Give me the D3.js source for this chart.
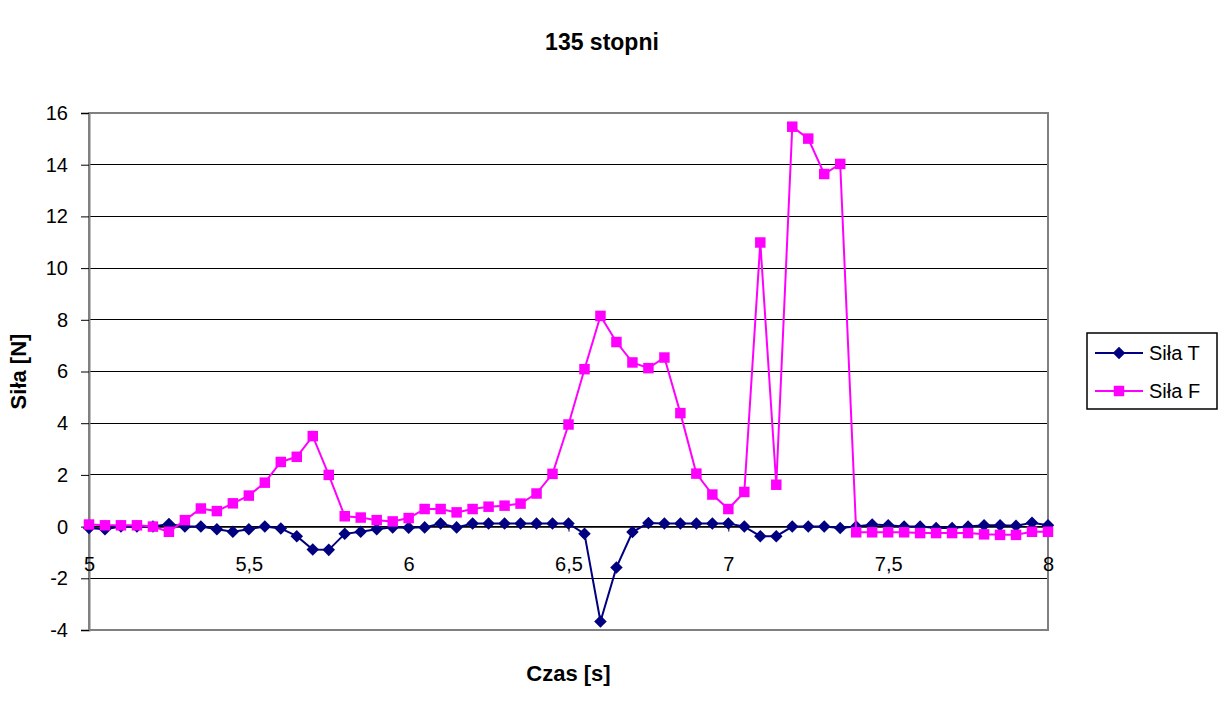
<!DOCTYPE html>
<html>
<head>
<meta charset="utf-8">
<script src="https://cdn.jsdelivr.net/npm/d3@7"></script>
<style>
  body { margin: 0; background: #fff; }
  svg { font-family: Arial, "Liberation Sans", sans-serif; }
</style>
</head>
<body>
<div id="chart"></div>
<script>
// chart data
const czas = [
  5.00, 5.05, 5.10, 5.15, 5.20, 5.25, 5.30, 5.35, 5.40, 5.45,
  5.50, 5.55, 5.60, 5.65, 5.70, 5.75, 5.80, 5.85, 5.90, 5.95,
  6.00, 6.05, 6.10, 6.15, 6.20, 6.25, 6.30, 6.35, 6.40, 6.45,
  6.50, 6.55, 6.60, 6.65, 6.70, 6.75, 6.80, 6.85, 6.90, 6.95,
  7.00, 7.05, 7.10, 7.15, 7.20, 7.25, 7.30, 7.35, 7.40, 7.45,
  7.50, 7.55, 7.60, 7.65, 7.70, 7.75, 7.80, 7.85, 7.90, 7.95,
  8.00
];
const silaT = [
  -0.05, -0.1, 0.0, 0.0, 0.0, 0.1, 0.0, 0.0, -0.1, -0.2,
  -0.1, 0.0, -0.07, -0.37, -0.89, -0.9, -0.28, -0.2, -0.1, -0.03,
  -0.04, -0.03, 0.12, -0.03, 0.12, 0.12, 0.12, 0.12, 0.12, 0.12,
  0.12, -0.28, -3.67, -1.58, -0.21, 0.14, 0.12, 0.12, 0.12, 0.12,
  0.12, 0.0, -0.37, -0.37, 0.0, 0.0, 0.0, -0.05, 0.0, 0.08,
  0.05, 0.0, 0.0, -0.05, -0.05, 0.0, 0.05, 0.05, 0.03, 0.15,
  0.05
];
const silaF = [
  0.08, 0.05, 0.05, 0.05, 0.0, -0.2, 0.25, 0.7, 0.6, 0.9,
  1.2, 1.7, 2.5, 2.7, 3.5, 2.0, 0.4, 0.35, 0.25, 0.2,
  0.33, 0.68, 0.68, 0.55, 0.68, 0.77, 0.81, 0.89, 1.28, 2.04,
  3.95, 6.09, 8.15, 7.14, 6.35, 6.13, 6.54, 4.39, 2.05, 1.24,
  0.68, 1.34, 10.99, 1.62, 15.47, 15.01, 13.64, 14.03, -0.22, -0.22,
  -0.22, -0.22, -0.25, -0.25, -0.25, -0.25, -0.3, -0.32, -0.32, -0.2,
  -0.2
];
const xTicks = [5, 5.5, 6, 6.5, 7, 7.5, 8];
const yTicks = [-4, -2, 0, 2, 4, 6, 8, 10, 12, 14, 16];

const series = [
  { name: "Siła T", values: silaT, color: "#000080", marker: "diamond" },
  { name: "Siła F", values: silaF, color: "#FF00FF", marker: "square" }
];

const W = 1229, H = 715;
const margin = { top: 113, right: 181, bottom: 85, left: 89 };
const width = W - margin.left - margin.right;
const height = H - margin.top - margin.bottom;

const svg = d3.select("#chart").append("svg")
  .attr("width", W)
  .attr("height", H);

const g = svg.append("g")
  .attr("transform", `translate(${margin.left}, ${margin.top})`);

// scales
const x = d3.scaleLinear().domain([5, 8]).range([0, width]);
const y = d3.scaleLinear().domain([-4, 16]).range([height, 0]);
const fmt = d => String(d).replace(".", ",");

// gridlines
g.append("g").selectAll("line")
  .data(yTicks.filter(d => d > -4 && d < 16))
  .enter().append("line")
  .attr("x1", 0).attr("x2", width)
  .attr("y1", d => y(d)).attr("y2", d => y(d))
  .attr("stroke", "#000").attr("stroke-width", 1)
  .attr("shape-rendering", "crispEdges");

// plot border
g.append("rect")
  .attr("width", width).attr("height", height)
  .attr("fill", "none").attr("stroke", "#808080").attr("stroke-width", 2)
  .attr("shape-rendering", "crispEdges");

// y axis
const yAxis = d3.axisLeft(y).tickValues(yTicks).tickSize(8).tickFormat(fmt);
const yg = g.append("g").call(yAxis);
yg.select(".domain").attr("stroke", "#808080").attr("stroke-width", 2);
yg.selectAll(".tick line").attr("stroke", "#000");
yg.selectAll(".tick text")
  .attr("font-size", 20).attr("font-family", "Arial, 'Liberation Sans', sans-serif")
  .attr("fill", "#000").attr("x", -21);

// x axis sits at y = 0
const xAxis = d3.axisBottom(x).tickValues(xTicks).tickSize(5).tickFormat(fmt);
const xg = g.append("g").attr("transform", `translate(0, ${y(0)})`).call(xAxis);
xg.select(".domain").attr("stroke", "#000").attr("stroke-width", 1.5);
xg.selectAll(".tick line").attr("stroke", "#000");
xg.selectAll(".tick text")
  .attr("font-size", 20).attr("font-family", "Arial, 'Liberation Sans', sans-serif")
  .attr("fill", "#000").attr("y", 38).attr("dy", "0.32em");

// series lines and markers
const line = d3.line().x((d, i) => x(czas[i])).y(d => y(d));
const symbols = {
  diamond: d3.symbol().type(d3.symbolDiamond2).size(100),
  square: d3.symbol().type(d3.symbolSquare).size(110)
};

series.forEach(s => {
  g.append("path")
    .datum(s.values)
    .attr("fill", "none")
    .attr("stroke", s.color)
    .attr("stroke-width", 2)
    .attr("d", line);

  g.append("g").selectAll("path")
    .data(s.values)
    .enter().append("path")
    .attr("transform", (d, i) => `translate(${x(czas[i])}, ${y(d)})`)
    .attr("d", symbols[s.marker])
    .attr("fill", s.color);
});

// title
svg.append("text")
  .attr("x", 602).attr("y", 50)
  .attr("text-anchor", "middle")
  .attr("font-size", 23).attr("font-weight", "bold")
  .text("135 stopni");

// axis titles
svg.append("text")
  .attr("x", margin.left + width / 2).attr("y", 681)
  .attr("text-anchor", "middle")
  .attr("font-size", 22).attr("font-weight", "bold")
  .text("Czas [s]");

svg.append("text")
  .attr("transform", `translate(26, ${margin.top + height / 2}) rotate(-90)`)
  .attr("text-anchor", "middle")
  .attr("font-size", 22).attr("font-weight", "bold")
  .text("Siła [N]");

// legend
const legend = svg.append("g").attr("transform", "translate(1087, 333)");
legend.append("rect")
  .attr("width", 130).attr("height", 76)
  .attr("fill", "#fff").attr("stroke", "#000").attr("stroke-width", 1.5);

series.forEach((s, i) => {
  const row = legend.append("g").attr("transform", `translate(0, ${20 + i * 38})`);
  row.append("line")
    .attr("x1", 8).attr("x2", 56)
    .attr("stroke", s.color).attr("stroke-width", 2);
  row.append("path")
    .attr("transform", "translate(32, 0)")
    .attr("d", symbols[s.marker])
    .attr("fill", s.color);
  row.append("text")
    .attr("x", 62).attr("dy", "0.35em")
    .attr("font-size", 20)
    .text(s.name);
});
</script>
</body>
</html>
